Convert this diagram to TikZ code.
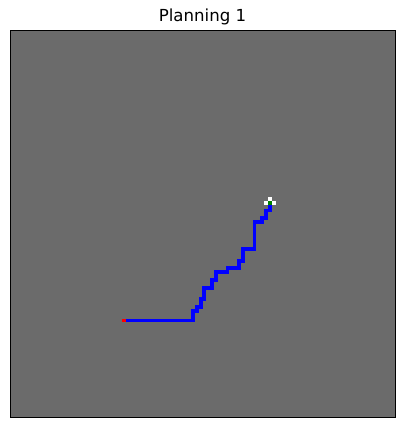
\documentclass[tikz,border=0pt]{standalone}
\usepackage{fontspec}
\setmainfont{DejaVu Sans}
\usepackage{xcolor}
\usetikzlibrary{positioning}
\definecolor{mapgray}{HTML}{6B6B6B}
\definecolor{goalgreen}{HTML}{008000}

\begin{document}
\begin{tikzpicture}[x=1pt, y=-1pt,
  plottitle/.style={font=\fontsize{16.6}{20}\selectfont, anchor=base, inner sep=0pt},
  cellfill/.style={fill=#1, draw=none},
  route/.style={draw=blue, line width=3.9pt, line cap=rect, line join=miter}
]
\useasboundingbox[fill=white] (0,0) rectangle (404,427);
\node[plottitle] (title) at (202.5,22) {Planning 1};
\fill[mapgray] (10,31) rectangle (395,417);
% grid cells, 100 x 100
\begin{scope}[shift={(10pt,-31pt)}, x=3.85pt, y=-3.86pt]
  \draw[route, shift={(0.5,0.5)}] (30,74.5) -- (47,74.5) -- (47,72) -- (48,72)
    -- (48,71) -- (49,71) -- (49,69) -- (50,69) -- (50,66) -- (52,66)
    -- (52,64) -- (53,64) -- (53,62) -- (56,62) -- (56,61) -- (59,61)
    -- (59,59) -- (60,59) -- (60,56) -- (63,56) -- (63,49) -- (65,49)
    -- (65,48) -- (66,48) -- (66,46) -- (67,46) -- (67,45);
  % start
  \path[cellfill=red] (29,74.5) rectangle ++(1,1);
  % goal
  \path[cellfill=goalgreen] (67,44) rectangle ++(1,1);
  \foreach \gx/\gy in {67/43, 66/44, 68/44}
    \path[cellfill=white] (\gx,\gy) rectangle ++(1,1);
\end{scope}
\draw[black, line width=1pt] (10,31) rectangle (395,417);
\end{tikzpicture}
\end{document}
